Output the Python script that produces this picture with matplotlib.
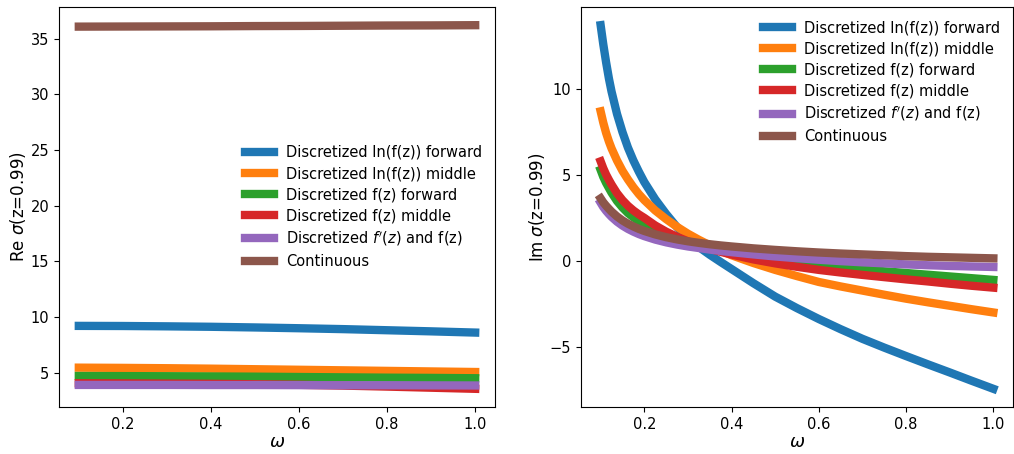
import matplotlib
matplotlib.use("Agg")
import matplotlib.pyplot as plt

labels = [
    "Discretized ln(f(z)) forward",
    "Discretized ln(f(z)) middle",
    "Discretized f(z) forward",
    "Discretized f(z) middle",
    "Discretized $f'(z)$ and f(z)",
    "Continuous",
]

# ---- Real part of sigma(z=0.99) ----
omega_re = [0.1, 0.2, 0.3, 0.4, 0.5, 0.6, 0.7, 0.8, 0.9, 1.0]
re_ln_forward = [9.20, 9.19, 9.16, 9.12, 9.06, 8.99, 8.91, 8.81, 8.71, 8.60]
re_ln_middle  = [5.45, 5.43, 5.40, 5.36, 5.31, 5.26, 5.21, 5.16, 5.11, 5.06]
re_f_forward  = [4.70, 4.69, 4.68, 4.66, 4.64, 4.61, 4.58, 4.55, 4.53, 4.50]
re_f_middle   = [4.05, 4.04, 4.02, 4.00, 3.96, 3.91, 3.84, 3.75, 3.65, 3.55]
re_fprime     = [3.90, 3.90, 3.90, 3.89, 3.89, 3.88, 3.87, 3.87, 3.86, 3.85]
re_continuous = [36.07, 36.08, 36.09, 36.10, 36.12, 36.13, 36.15, 36.17, 36.18, 36.20]

# ---- Imaginary part of sigma(z=0.99) ----
omega_im = [0.1, 0.106, 0.1125, 0.119, 0.125, 0.1375, 0.15, 0.1625, 0.175, 0.1875,
            0.2, 0.225, 0.25, 0.275, 0.3, 0.325, 0.35, 0.375, 0.4, 0.45,
            0.5, 0.55, 0.6, 0.65, 0.7, 0.75, 0.8, 0.85, 0.9, 0.95, 1.0]
im_ln_forward = [13.7, 12.6, 11.55, 10.6, 9.85, 8.55, 7.5, 6.6, 5.85, 5.2,
                 4.6, 3.6, 2.75, 1.98, 1.35, 0.83, 0.38, -0.04, -0.45, -1.27,
                 -2.05, -2.72, -3.35, -3.94, -4.5, -5.01, -5.5, -5.98, -6.45, -6.93, -7.4]
im_ln_middle  = [8.7, 8.05, 7.45, 6.95, 6.55, 5.85, 5.25, 4.75, 4.3, 3.9,
                 3.55, 2.95, 2.45, 2.0, 1.6, 1.25, 0.93, 0.63, 0.35, -0.1,
                 -0.5, -0.86, -1.2, -1.46, -1.7, -1.94, -2.17, -2.38, -2.58, -2.78, -2.97]
im_f_forward  = [5.3, 4.9, 4.55, 4.25, 3.98, 3.5, 3.12, 2.8, 2.55, 2.33,
                 2.13, 1.78, 1.5, 1.27, 1.07, 0.89, 0.73, 0.59, 0.46, 0.24,
                 0.05, -0.11, -0.25, -0.37, -0.48, -0.58, -0.68, -0.78, -0.88, -0.98, -1.08]
im_f_middle   = [5.8, 5.4, 5.03, 4.72, 4.45, 3.95, 3.55, 3.22, 2.95, 2.72,
                 2.52, 2.08, 1.72, 1.42, 1.16, 0.93, 0.73, 0.55, 0.39, 0.11,
                 -0.12, -0.32, -0.5, -0.65, -0.79, -0.92, -1.05, -1.17, -1.3, -1.42, -1.53]
im_fprime     = [3.4, 3.15, 2.93, 2.74, 2.58, 2.3, 2.07, 1.88, 1.72, 1.58,
                 1.46, 1.26, 1.1, 0.97, 0.86, 0.77, 0.68, 0.6, 0.53, 0.4,
                 0.28, 0.18, 0.09, 0.01, -0.06, -0.12, -0.18, -0.23, -0.27, -0.3, -0.33]
im_continuous = [3.65, 3.42, 3.22, 3.04, 2.88, 2.6, 2.37, 2.18, 2.02, 1.88,
                 1.76, 1.56, 1.4, 1.27, 1.16, 1.07, 0.99, 0.92, 0.86, 0.75,
                 0.66, 0.58, 0.51, 0.45, 0.4, 0.35, 0.3, 0.26, 0.23, 0.2, 0.17]

re_series = [re_ln_forward, re_ln_middle, re_f_forward, re_f_middle, re_fprime, re_continuous]
im_series = [im_ln_forward, im_ln_middle, im_f_forward, im_f_middle, im_fprime, im_continuous]
colors = ["#1f77b4", "#ff7f0e", "#2ca02c", "#d62728", "#9467bd", "#8c564b"]

plt.rcParams["font.size"] = 10.5

fig = plt.figure(figsize=(10.14, 4.54), dpi=100)
ax1 = fig.add_axes([59/1014, 1-407/454, (495-59)/1014, 400/454])
ax2 = fig.add_axes([581/1014, 1-407/454, (1013-581)/1014, 400/454])

for ys, c, lab in zip(re_series, colors, labels):
    ax1.plot(omega_re, ys, color=c, lw=6, label=lab)
for ys, c, lab in zip(im_series, colors, labels):
    ax2.plot(omega_im, ys, color=c, lw=6, label=lab)

for ax in (ax1, ax2):
    ax.set_xlabel(r"$\omega$", fontsize=13, labelpad=1)
    ax.set_xticks([0.2, 0.4, 0.6, 0.8, 1.0])
ax1.set_ylabel(r"Re $\sigma$(z=0.99)", fontsize=12, labelpad=2)
ax2.set_ylabel(r"Im $\sigma$(z=0.99)", fontsize=12, labelpad=2)
ax1.set_yticks([5, 10, 15, 20, 25, 30, 35])
ax2.set_yticks([-5, 0, 5, 10])

ax1.legend(loc="center right", frameon=False, labelspacing=0.42)
ax2.legend(loc="upper right", frameon=False, labelspacing=0.42)

fig.savefig("out.png", dpi=100)
